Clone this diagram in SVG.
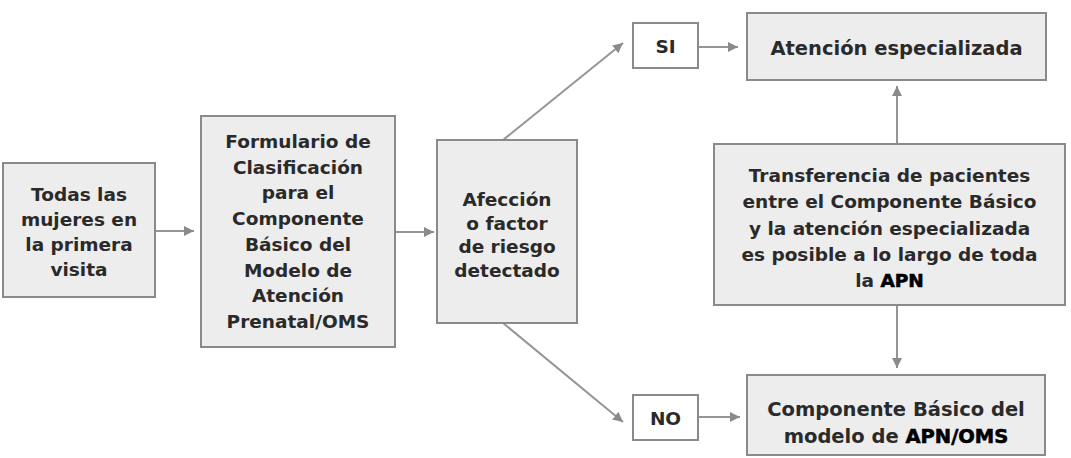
<svg xmlns="http://www.w3.org/2000/svg" width="1071" height="458" viewBox="0 0 1071 458">
<style>
  .box { fill: #ededed; stroke: #8a8a8a; stroke-width: 2; }
  .sbox { fill: #ffffff; stroke: #8a8a8a; stroke-width: 2; }
  .t { font-family: "DejaVu Sans", "Liberation Sans", sans-serif; font-weight: bold; fill: #2a2a2a; text-anchor: middle; }
  .s185 { font-size: 18.5px; }
  .s19 { font-size: 19.5px; }
  .em { fill: #000; stroke: #000; stroke-width: 0.6; }
  .conn { stroke: #959595; stroke-width: 2; fill: none; marker-end: url(#ah); }
</style>
<defs>
  <marker id="ah" markerUnits="userSpaceOnUse" markerWidth="11" markerHeight="11" refX="10" refY="5.5" orient="auto" viewBox="0 0 11 11">
    <path d="M0,0.5 L10,5.5 L0,10.5 z" fill="#8a8a8a"/>
  </marker>
</defs>
<rect width="1071" height="458" fill="#ffffff"/>

<g id="connectors">
  <line class="conn" x1="155" y1="231" x2="194" y2="231"/>
  <line class="conn" x1="395" y1="232" x2="434" y2="232"/>
  <line class="conn" x1="503" y1="140" x2="623" y2="43"/>
  <line class="conn" x1="503" y1="323" x2="623" y2="422"/>
  <line class="conn" x1="698" y1="47" x2="738" y2="47"/>
  <line class="conn" x1="698" y1="417" x2="740" y2="417"/>
  <line class="conn" x1="897" y1="144" x2="897" y2="86"/>
  <line class="conn" x1="897" y1="305" x2="897" y2="368"/>
</g>

<g id="todas">
  <rect class="box" x="3" y="163" width="152" height="134"/>
  <text class="t s185" x="79" y="201">Todas las</text>
  <text class="t s185" x="79" y="226">mujeres en</text>
  <text class="t s185" x="79" y="251">la primera</text>
  <text class="t s185" x="79" y="276">visita</text>
</g>

<g id="formulario">
  <rect class="box" x="201" y="116" width="194" height="231"/>
  <text class="t s185" x="298" y="148">Formulario de</text>
  <text class="t s185" x="298" y="173.7">Clasificación</text>
  <text class="t s185" x="298" y="199.4">para el</text>
  <text class="t s185" x="298" y="225">Componente</text>
  <text class="t s185" x="298" y="250.8">Básico del</text>
  <text class="t s185" x="298" y="276.5">Modelo de</text>
  <text class="t s185" x="298" y="302">Atención</text>
  <text class="t s185" x="298" y="328">Prenatal/OMS</text>
</g>

<g id="afeccion">
  <rect class="box" x="437" y="140" width="140" height="183"/>
  <text class="t s185" x="507" y="206">Afección</text>
  <text class="t s185" x="507" y="229.5">o factor</text>
  <text class="t s185" x="507" y="253">de riesgo</text>
  <text class="t s185" x="507" y="276.5">detectado</text>
</g>

<g id="si">
  <rect class="sbox" x="633" y="23" width="65" height="45"/>
  <text class="t s185" x="665.5" y="52.5">SI</text>
</g>

<g id="no">
  <rect class="sbox" x="633" y="395" width="65" height="45"/>
  <text class="t s185" x="665.5" y="424.5">NO</text>
</g>

<g id="atencion">
  <rect class="box" x="747" y="13" width="299" height="67"/>
  <text class="t s19" x="896.5" y="55">Atención especializada</text>
</g>

<g id="transferencia">
  <rect class="box" x="714" y="144" width="351" height="161"/>
  <text class="t s185" x="889.5" y="182">Transferencia de pacientes</text>
  <text class="t s185" x="889.5" y="208">entre el Componente Básico</text>
  <text class="t s185" x="889.5" y="234.5">y la atención especializada</text>
  <text class="t s185" x="889.5" y="261">es posible a lo largo de toda</text>
  <text class="t s185" x="889.5" y="287">la <tspan class="em">APN</tspan></text>
</g>

<g id="componente">
  <rect class="box" x="747" y="375" width="298" height="80"/>
  <text class="t s19" x="896" y="416">Componente Básico del</text>
  <text class="t s19" x="896" y="443">modelo de <tspan class="em">APN/OMS</tspan></text>
</g>
</svg>
